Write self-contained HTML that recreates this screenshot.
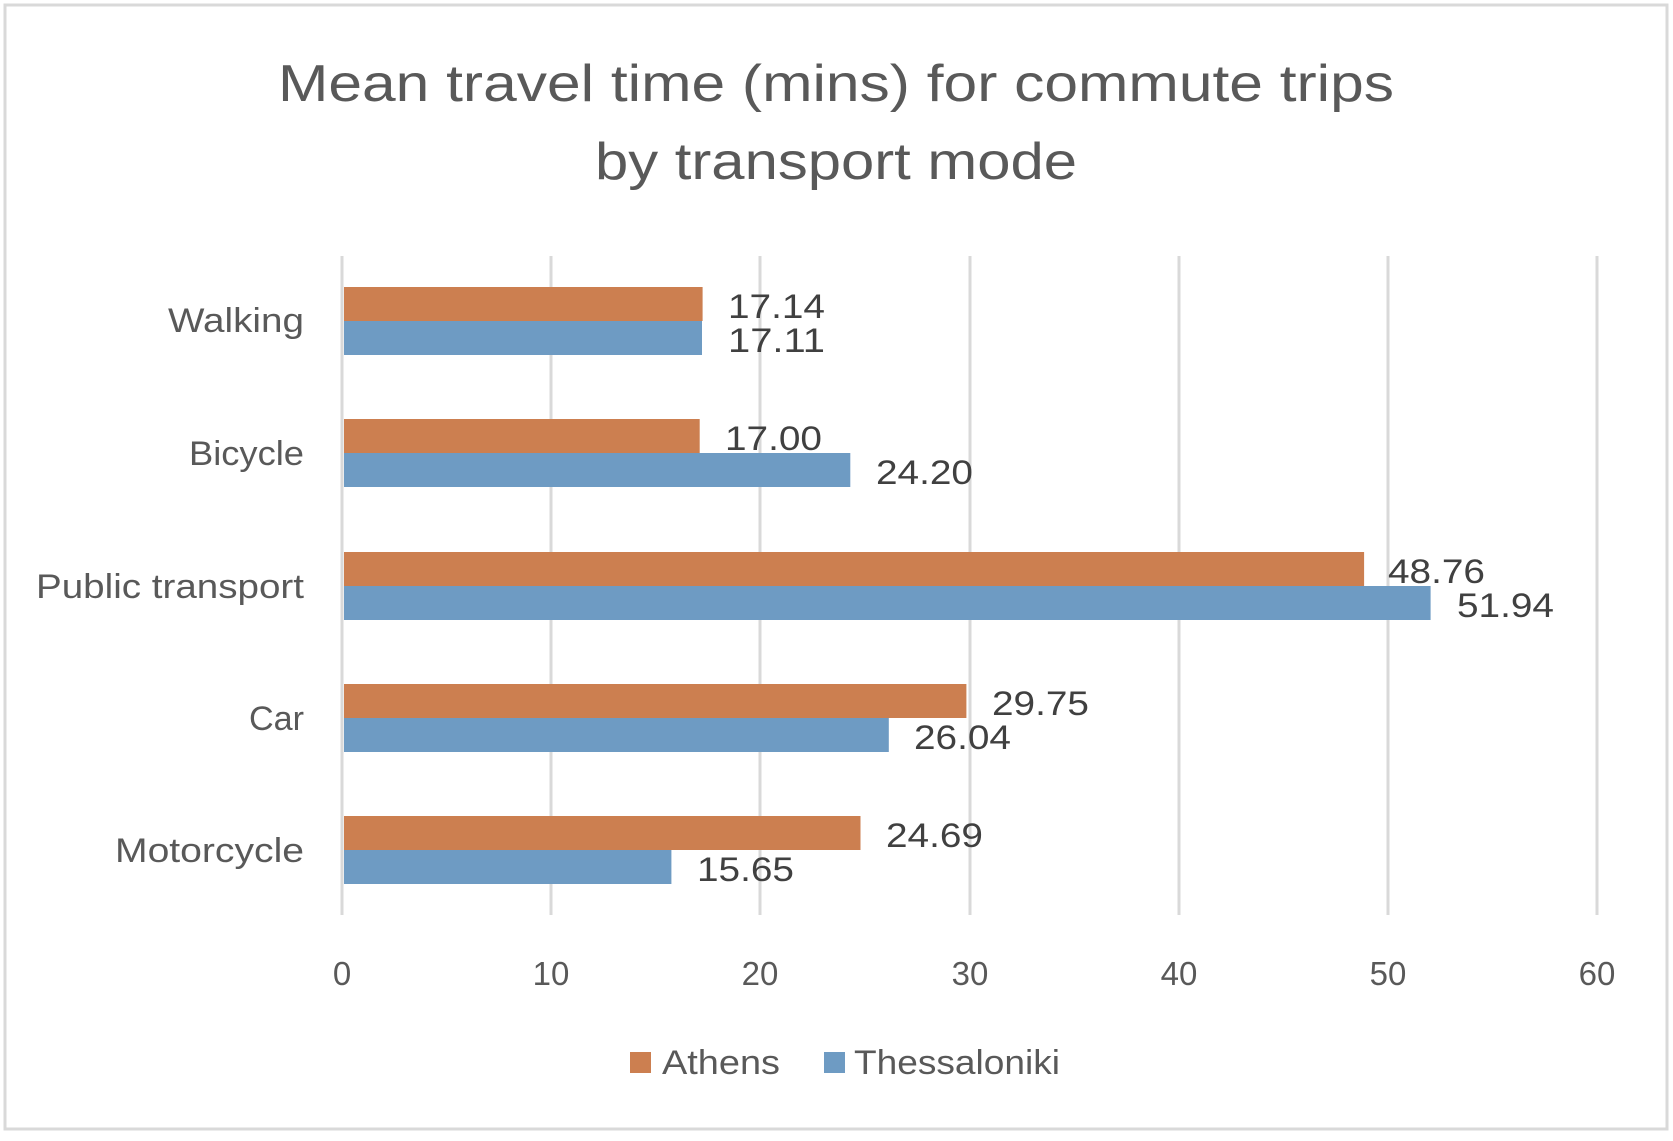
<!DOCTYPE html>
<html><head><meta charset="utf-8"><style>body{margin:0;background:#fff}</style></head><body>
<svg width="1673" height="1136" xmlns="http://www.w3.org/2000/svg" font-family="Liberation Sans, sans-serif">
<rect x="0" y="0" width="1673" height="1136" fill="#fff"/>
<rect x="5" y="5" width="1662" height="1124" fill="#fff" stroke="#d9d9d9" stroke-width="3"/>
<text x="836" y="101" text-anchor="middle" font-size="52" fill="#595959" textLength="1116" lengthAdjust="spacingAndGlyphs">Mean travel time (mins) for commute trips</text>
<text x="836" y="179" text-anchor="middle" font-size="52" fill="#595959" textLength="482" lengthAdjust="spacingAndGlyphs">by transport mode</text>
<g stroke="#d9d9d9" stroke-width="3">
<line x1="342" y1="256" x2="342" y2="915"/><line x1="551" y1="256" x2="551" y2="915"/><line x1="760" y1="256" x2="760" y2="915"/><line x1="970" y1="256" x2="970" y2="915"/><line x1="1179" y1="256" x2="1179" y2="915"/><line x1="1388" y1="256" x2="1388" y2="915"/><line x1="1597" y1="256" x2="1597" y2="915"/>
</g>
<g font-size="33" fill="#595959" text-anchor="middle">
<text x="342" y="985">0</text><text x="551" y="985">10</text><text x="760" y="985">20</text><text x="970" y="985">30</text><text x="1179" y="985">40</text><text x="1388" y="985">50</text><text x="1597" y="985">60</text>
</g>
<g font-size="34" fill="#595959" text-anchor="end" lengthAdjust="spacingAndGlyphs">
<text x="304" y="332" textLength="136" lengthAdjust="spacingAndGlyphs">Walking</text><text x="304" y="465" textLength="115" lengthAdjust="spacingAndGlyphs">Bicycle</text><text x="304" y="598" textLength="268" lengthAdjust="spacingAndGlyphs">Public transport</text><text x="304" y="730" textLength="55" lengthAdjust="spacingAndGlyphs">Car</text><text x="304" y="862" textLength="189" lengthAdjust="spacingAndGlyphs">Motorcycle</text>
</g>
<g>
<rect x="344" y="287" width="358.6" height="34" fill="#CC7F50"/><rect x="344" y="321" width="358" height="34" fill="#6E9BC3"/>
<rect x="344" y="419" width="355.7" height="34" fill="#CC7F50"/><rect x="344" y="453" width="506.3" height="34" fill="#6E9BC3"/>
<rect x="344" y="552" width="1020.1" height="34" fill="#CC7F50"/><rect x="344" y="586" width="1086.6" height="34" fill="#6E9BC3"/>
<rect x="344" y="684" width="622.4" height="34" fill="#CC7F50"/><rect x="344" y="718" width="544.8" height="34" fill="#6E9BC3"/>
<rect x="344" y="816" width="516.5" height="34" fill="#CC7F50"/><rect x="344" y="850" width="327.4" height="34" fill="#6E9BC3"/>
</g>
<g font-size="34" fill="#404040">
<text x="728" y="318" textLength="97" lengthAdjust="spacingAndGlyphs">17.14</text><text x="728" y="352" textLength="97" lengthAdjust="spacingAndGlyphs">17.11</text>
<text x="725" y="450" textLength="97" lengthAdjust="spacingAndGlyphs">17.00</text><text x="876" y="484" textLength="97" lengthAdjust="spacingAndGlyphs">24.20</text>
<text x="1388" y="583" textLength="97" lengthAdjust="spacingAndGlyphs">48.76</text><text x="1457" y="617" textLength="97" lengthAdjust="spacingAndGlyphs">51.94</text>
<text x="992" y="715" textLength="97" lengthAdjust="spacingAndGlyphs">29.75</text><text x="914" y="749" textLength="97" lengthAdjust="spacingAndGlyphs">26.04</text>
<text x="886" y="847" textLength="97" lengthAdjust="spacingAndGlyphs">24.69</text><text x="697" y="881" textLength="97" lengthAdjust="spacingAndGlyphs">15.65</text>
</g>
<rect x="630" y="1052" width="21" height="21" fill="#CC7F50"/>
<text x="662" y="1074" font-size="34" fill="#595959" textLength="118" lengthAdjust="spacingAndGlyphs">Athens</text>
<rect x="824" y="1052" width="21" height="21" fill="#6E9BC3"/>
<text x="854" y="1074" font-size="34" fill="#595959" textLength="206" lengthAdjust="spacingAndGlyphs">Thessaloniki</text>
</svg>
</body></html>
